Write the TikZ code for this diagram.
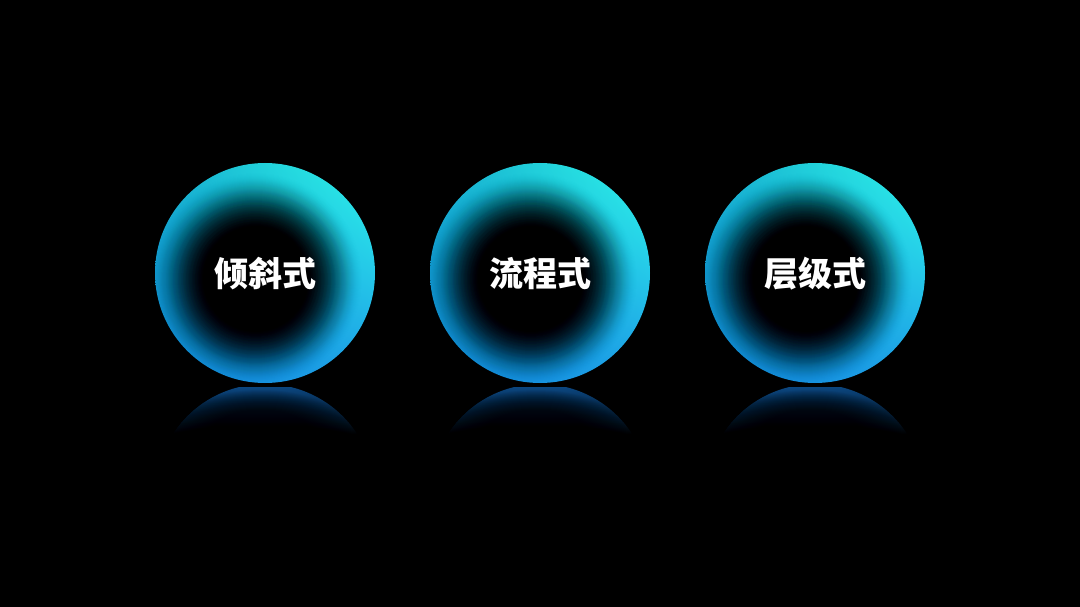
\documentclass[tikz,border=0pt]{standalone}
\usepackage{fontspec}
\newfontfamily\cjk{Noto Sans CJK SC}
\usetikzlibrary{shadings}
\definecolor{ulc}{HTML}{15AECC}
\definecolor{urc}{HTML}{2EF6EA}
\definecolor{llc}{HTML}{168CDA}
\definecolor{lrc}{HTML}{1C9CE8}
\definecolor{reflc}{HTML}{0B4680}
\tikzset{
  label text/.style={text=white, font=\cjk\bfseries\fontsize{34}{40}\selectfont},
  sphere fill/.style={upper left=ulc, upper right=urc, lower left=llc, lower right=lrc},
  rveil/.style={fill=black, fill opacity=0.05},
}
\begin{document}
\begin{tikzpicture}[x=1pt,y=-1pt]
\fill[black] (0,0) rectangle (1080,607);
\useasboundingbox (0,0) rectangle (1080,607);
\foreach \cx/\txt/\nm in {265/倾斜式/a, 540/流程式/b, 815/层级式/c} {
  % reflection
  \begin{scope}
    \clip (\cx,494) circle (110);
    \shade[top color=reflc, bottom color=black] (\cx-110,387) rectangle (\cx+110,434);
    \foreach \r in {0,2,...,40} {
      \path[rveil] (\cx-4,434) ellipse ({90-\r} and {44-\r/2});
    }
  \end{scope}
  % sphere
  \shade[sphere fill] (\cx,273) circle (110);
  \begin{scope}
    \clip (\cx,273) circle (110);
    \foreach \r in {10,...,106} {
      \pgfmathsetmacro\op{0.15*(106-\r)/96+0.002}
      \path[fill=black, fill opacity=\op] (\cx-9,279) circle (\r);
    }
  \end{scope}
  \node[label text] (\nm) at (\cx,274) {\txt};
}
\end{tikzpicture}
\end{document}
